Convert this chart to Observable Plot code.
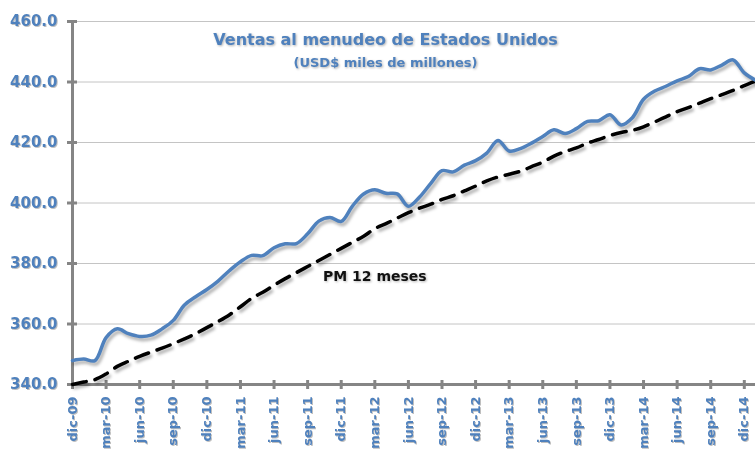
<!DOCTYPE html>
<html>
<head>
<meta charset="utf-8">
<script src="https://cdn.jsdelivr.net/npm/d3@7"></script>
<script src="https://cdn.jsdelivr.net/npm/@observablehq/plot@0.6"></script>
<style>
  html, body { margin: 0; padding: 0; background: #fff; }
</style>
</head>
<body>
<div id="chart"></div>
<script>
const months = [
  "dic-09",
  "ene-10","feb-10","mar-10","abr-10","may-10","jun-10","jul-10","ago-10","sep-10","oct-10","nov-10","dic-10",
  "ene-11","feb-11","mar-11","abr-11","may-11","jun-11","jul-11","ago-11","sep-11","oct-11","nov-11","dic-11",
  "ene-12","feb-12","mar-12","abr-12","may-12","jun-12","jul-12","ago-12","sep-12","oct-12","nov-12","dic-12",
  "ene-13","feb-13","mar-13","abr-13","may-13","jun-13","jul-13","ago-13","sep-13","oct-13","nov-13","dic-13",
  "ene-14","feb-14","mar-14","abr-14","may-14","jun-14","jul-14","ago-14","sep-14","oct-14","nov-14","dic-14",
  "ene-15"
];
const ventas = [
  347.9,
  348.4, 347.9, 355.5, 358.4, 356.8, 355.9, 356.3, 358.4, 361.2, 366.3, 369.0, 371.4,
  374.2, 377.6, 380.6, 382.7, 382.6, 385.2, 386.5, 386.6, 389.8, 394.0, 395.2, 393.9,
  399.0, 403.0, 404.4, 403.2, 403.0, 398.9, 402.0, 406.5, 410.7, 410.3, 412.5, 414.0,
  416.5, 420.7, 417.2, 418.0, 419.8, 422.0, 424.2, 423.0, 424.6, 427.0, 427.2, 429.2,
  425.8, 428.2, 434.3, 437.0, 438.6, 440.4, 441.8, 444.4, 444.0, 445.6, 447.3, 443.0,
  440.6
];
const pm12 = [
  340.0,
  340.8, 341.6, 343.5, 346.0, 347.7, 349.3, 350.7, 352.0, 353.5, 355.1, 356.8, 358.8,
  360.8, 363.0, 365.7, 368.5, 370.5, 372.8, 375.0, 377.0, 379.0, 381.0, 383.0, 385.0,
  387.0, 389.0, 391.5, 393.2, 395.0, 396.8, 398.3, 399.6, 401.2, 402.4, 404.0, 405.6,
  407.3, 408.6, 409.5, 410.5, 412.0, 413.5, 415.5, 417.0, 418.2, 419.8, 421.0, 422.3,
  423.3, 424.0, 425.2, 426.8, 428.5, 430.2, 431.5, 433.0, 434.5, 435.8, 437.2, 438.8,
  440.3
];
const xTicks = ["dic-09","mar-10","jun-10","sep-10","dic-10","mar-11","jun-11","sep-11","dic-11",
  "mar-12","jun-12","sep-12","dic-12","mar-13","jun-13","sep-13","dic-13","mar-14","jun-14","sep-14","dic-14"];
const yTicks = [340, 360, 380, 400, 420, 440, 460];
const title = "Ventas al menudeo de Estados Unidos";
const subtitle = "(USD$ miles de millones)";
const pmLabel = "PM 12 meses";

const data = months.map((m, i) => ({mes: m, ventas: ventas[i], pm12: pm12[i]}));

const blue = "#4F81BD";
const axisGray = "#858585";

const chart = Plot.plot({
  width: 755,
  height: 451,
  marginTop: 21,
  marginBottom: 67,
  marginLeft: 72,
  marginRight: 0,
  style: {fontFamily: "'DejaVu Sans', sans-serif", fontWeight: "bold", background: "#fff", overflow: "visible"},
  x: {type: "point", domain: months, padding: 0, round: false, label: null},
  y: {domain: [340, 460], label: null},
  marks: [
    Plot.ruleY(yTicks, {stroke: "#c4c4c4", strokeWidth: 1}),
    // axis lines
    Plot.ruleY([340], {stroke: axisGray, strokeWidth: 3}),
    Plot.ruleX([months[0]], {y1: 340, y2: 460, stroke: axisGray, strokeWidth: 3}),
    // y ticks (crossing) and labels
    Plot.axisY({ticks: yTicks, tickSize: 10, dx: 5, stroke: axisGray, strokeWidth: 3, tickFormat: () => "", label: null}),
    Plot.axisY({ticks: yTicks, tickSize: 0, tickPadding: 15, fontSize: 15, fill: blue, label: null,
      tickFormat: d => d.toFixed(1), imageFilter: "drop-shadow(1px 1px 0.6px rgba(0,0,0,0.25))"}),
    // x ticks (crossing) and labels
    Plot.axisX({ticks: xTicks, tickSize: 9, dy: -4, stroke: axisGray, strokeWidth: 3, tickFormat: () => "", label: null}),
    Plot.axisX({ticks: xTicks, tickSize: 0, tickPadding: 12, tickRotate: -90, fontSize: 13, fill: blue, label: null,
      tickFormat: d => d, imageFilter: "drop-shadow(1px 1px 0.6px rgba(0,0,0,0.25))"}),
    // series
    Plot.line(data, {x: "mes", y: "pm12", stroke: "#000", strokeWidth: 3.5, strokeDasharray: "14,9",
      curve: "catmull-rom", imageFilter: "drop-shadow(2px 3px 1.5px rgba(0,0,0,0.3))"}),
    Plot.line(data, {x: "mes", y: "ventas", stroke: blue, strokeWidth: 3.5,
      curve: "catmull-rom", imageFilter: "drop-shadow(2px 3px 1.5px rgba(0,0,0,0.3))"}),
    // texts
    Plot.text([title], {frameAnchor: "top-left", dx: 313, dy: 12, textAnchor: "middle", fontSize: 16,
      fill: blue, fontWeight: "bold", imageFilter: "drop-shadow(1px 1px 0.8px rgba(0,0,0,0.3))"}),
    Plot.text([subtitle], {frameAnchor: "top-left", dx: 313, dy: 36, textAnchor: "middle", fontSize: 13,
      fill: blue, fontWeight: "bold", imageFilter: "drop-shadow(1px 1px 0.8px rgba(0,0,0,0.3))"}),
    Plot.text([{mes: "mar-12", v: 375.7}], {x: "mes", y: "v", text: () => pmLabel, textAnchor: "middle",
      fontSize: 14, fill: "#111", fontWeight: "bold", imageFilter: "drop-shadow(1px 1px 0.8px rgba(0,0,0,0.3))"})
  ]
});
document.getElementById("chart").appendChild(chart);
</script>
</body>
</html>
